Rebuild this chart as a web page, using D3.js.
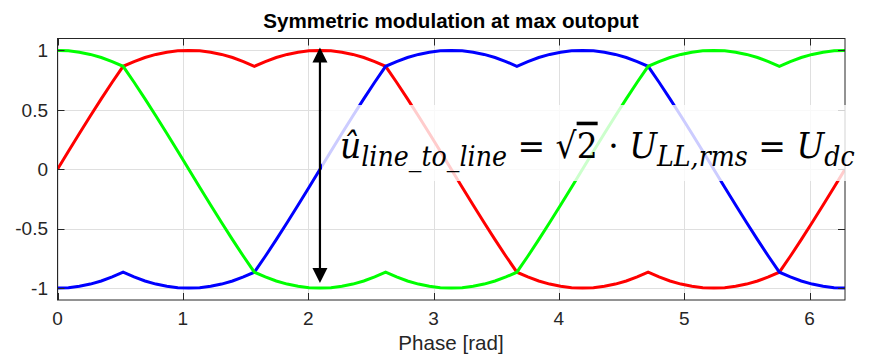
<!DOCTYPE html>
<html><head><meta charset="utf-8">
<script src="https://cdn.jsdelivr.net/npm/d3@7"></script>
<style>body{margin:0;background:#fff}svg{display:block}</style>
</head><body>
<svg id="chart" width="869" height="357"></svg>
<script>
// ---- data (phase in degrees) ----
const phaseDeg = [0,5,10,15,20,25,30,35,40,45,50,55,60,65,70,75,80,85,90,95,100,105,110,115,120,125,130,135,140,145,150,155,160,165,170,175,180,185,190,195,200,205,210,215,220,225,230,235,240,245,250,255,260,265,270,275,280,285,290,295,300,305,310,315,320,325,330,335,340,345,350,355,360];
const red = [0,0.151,0.301,0.448,0.592,0.732,0.866,0.906,0.940,0.966,0.985,0.996,1,0.996,0.985,0.966,0.940,0.906,0.866,0.906,0.940,0.966,0.985,0.996,1,0.996,0.985,0.966,0.940,0.906,0.866,0.732,0.592,0.448,0.301,0.151,0,-0.151,-0.301,-0.448,-0.592,-0.732,-0.866,-0.906,-0.940,-0.966,-0.985,-0.996,-1,-0.996,-0.985,-0.966,-0.940,-0.906,-0.866,-0.906,-0.940,-0.966,-0.985,-0.996,-1,-0.996,-0.985,-0.966,-0.940,-0.906,-0.866,-0.732,-0.592,-0.448,-0.301,-0.151,0];
const blue = [-1,-0.996,-0.985,-0.966,-0.940,-0.906,-0.866,-0.906,-0.940,-0.966,-0.985,-0.996,-1,-0.996,-0.985,-0.966,-0.940,-0.906,-0.866,-0.732,-0.592,-0.448,-0.301,-0.151,0,0.151,0.301,0.448,0.592,0.732,0.866,0.906,0.940,0.966,0.985,0.996,1,0.996,0.985,0.966,0.940,0.906,0.866,0.906,0.940,0.966,0.985,0.996,1,0.996,0.985,0.966,0.940,0.906,0.866,0.732,0.592,0.448,0.301,0.151,0,-0.151,-0.301,-0.448,-0.592,-0.732,-0.866,-0.906,-0.940,-0.966,-0.985,-0.996,-1];
const green = [1,0.996,0.985,0.966,0.940,0.906,0.866,0.732,0.592,0.448,0.301,0.151,0,-0.151,-0.301,-0.448,-0.592,-0.732,-0.866,-0.906,-0.940,-0.966,-0.985,-0.996,-1,-0.996,-0.985,-0.966,-0.940,-0.906,-0.866,-0.906,-0.940,-0.966,-0.985,-0.996,-1,-0.996,-0.985,-0.966,-0.940,-0.906,-0.866,-0.732,-0.592,-0.448,-0.301,-0.151,0,0.151,0.301,0.448,0.592,0.732,0.866,0.906,0.940,0.966,0.985,0.996,1,0.996,0.985,0.966,0.940,0.906,0.866,0.906,0.940,0.966,0.985,0.996,1];
const xTicks = [0,1,2,3,4,5,6];
const yTicks = [-1,-0.5,0,0.5,1];
const yTickLabels = ["-1","-0.5","0","0.5","1"];
const titleText = "Symmetric modulation at max outoput";
const xLabelText = "Phase [rad]";
const arrowPhase = 2.094, arrowTop = 1.025, arrowBottom = -0.957;

// ---- layout ----
const L = 57.5, R = 845, T = 38.5, B = 300;
const svg = d3.select("#chart");
const x = d3.scaleLinear().domain([0, 2*Math.PI]).range([L, R]);
const y = d3.scaleLinear().domain([-1.1, 1.1]).range([B, T]);
const axisCol = "#262626", gridCol = "#dfdfdf";
const font = "'Liberation Sans', Arial, sans-serif";

// grid
const g = svg.append("g");
g.selectAll(".gx").data(xTicks).join("line")
  .attr("x1", d => Math.round(x(d)) + 0.5).attr("x2", d => Math.round(x(d)) + 0.5)
  .attr("y1", T).attr("y2", B).attr("stroke", gridCol).attr("stroke-width", 1);
g.selectAll(".gy").data(yTicks).join("line")
  .attr("y1", d => Math.round(y(d)) + 0.5).attr("y2", d => Math.round(y(d)) + 0.5)
  .attr("x1", L).attr("x2", R).attr("stroke", gridCol).attr("stroke-width", 1);

// clip
svg.append("clipPath").attr("id", "clip").append("rect")
  .attr("x", L).attr("y", T).attr("width", R - L).attr("height", B - T);

const series = [
  {vals: red, col: "#ff0000"},
  {vals: blue, col: "#0000ff"},
  {vals: green, col: "#00ff00"}
];
const line = d3.line().x(d => x(d[0] * Math.PI / 180)).y(d => y(d[1]));
svg.append("g").attr("clip-path", "url(#clip)")
  .selectAll("path").data(series).join("path")
  .attr("d", s => line(phaseDeg.map((p, i) => [p, s.vals[i]])))
  .attr("fill", "none").attr("stroke", s => s.col).attr("stroke-width", 3)
  .attr("stroke-linejoin", "miter").attr("stroke-miterlimit", 10);

// axes box with inward ticks
const tl = 7;
const ax = svg.append("g").attr("stroke", axisCol).attr("stroke-width", 1);
ax.append("rect").attr("x", L).attr("y", T).attr("width", R - L).attr("height", B - T).attr("fill", "none");
xTicks.forEach(t => {
  const xx = Math.round(x(t)) + 0.5;
  ax.append("line").attr("x1", xx).attr("x2", xx).attr("y1", B).attr("y2", B - tl);
  ax.append("line").attr("x1", xx).attr("x2", xx).attr("y1", T).attr("y2", T + tl);
});
yTicks.forEach(t => {
  const yy = Math.round(y(t)) + 0.5;
  ax.append("line").attr("y1", yy).attr("y2", yy).attr("x1", L).attr("x2", L + tl);
  ax.append("line").attr("y1", yy).attr("y2", yy).attr("x1", R).attr("x2", R - tl);
});

// tick labels
svg.append("g").selectAll("text").data(xTicks).join("text")
  .attr("x", d => x(d)).attr("y", 325).attr("text-anchor", "middle")
  .attr("font-family", font).attr("font-size", 19).attr("fill", axisCol).text(d => d);
svg.append("g").selectAll("text").data(yTicks).join("text")
  .attr("x", 48).attr("y", d => y(d) + 6.8).attr("text-anchor", "end")
  .attr("font-family", font).attr("font-size", 19).attr("fill", axisCol)
  .text((d, i) => yTickLabels[i]);

// title and label
svg.append("text").attr("x", 451).attr("y", 28).attr("text-anchor", "middle")
  .attr("font-family", font).attr("font-size", 20.6).attr("font-weight", "bold").attr("fill", "#000")
  .text(titleText);
svg.append("text").attr("x", 451).attr("y", 350).attr("text-anchor", "middle")
  .attr("font-family", font).attr("font-size", 20.6).attr("fill", axisCol).text(xLabelText);

// annotation box
svg.append("rect").attr("x", 322).attr("y", 105).attr("width", 525).attr("height", 76)
  .attr("fill", "#fff").attr("fill-opacity", 0.8);

// arrow
const ax0 = x(arrowPhase), yTop = y(arrowTop), yBot = y(arrowBottom);
const hl = 15, hw = 7.5;
svg.append("line").attr("x1", ax0).attr("x2", ax0).attr("y1", yTop + hl - 1).attr("y2", yBot - hl + 1)
  .attr("stroke", "#000").attr("stroke-width", 2.2);
svg.append("path").attr("d", `M${ax0},${yTop}L${ax0 - hw},${yTop + hl}L${ax0 + hw},${yTop + hl}Z`).attr("fill", "#000");
svg.append("path").attr("d", `M${ax0},${yBot}L${ax0 - hw},${yBot - hl}L${ax0 + hw},${yBot - hl}Z`).attr("fill", "#000");

// math text
const mg = svg.append("g");
const mt = mg.append("text").attr("x", 0).attr("y", 0)
  .attr("font-family", "'DejaVu Serif', 'Liberation Serif', serif").attr("font-size", 30).attr("fill", "#000");
mt.append("tspan").attr("font-style", "italic").text("û");
mt.append("tspan").attr("font-style", "italic").attr("font-size", 23).attr("dy", 7).text("line_to_line");
mt.append("tspan").attr("dy", -7).text(" = √");
mt.append("tspan").attr("text-decoration", "overline").text("2");
mt.append("tspan").text(" · ");
mt.append("tspan").attr("font-style", "italic").text("U");
mt.append("tspan").attr("font-style", "italic").attr("font-size", 23).attr("dy", 7).text("LL,rms");
mt.append("tspan").attr("dy", -7).text(" = ");
mt.append("tspan").attr("font-style", "italic").text("U");
mt.append("tspan").attr("font-style", "italic").attr("font-size", 23).attr("dy", 7).text("dc");
const bb = mt.node().getBBox();
const sx = 515 / bb.width, sy = sx * 1.08;
mg.attr("transform", `translate(${340 - bb.x * sx},158) scale(${sx},${sy})`);
</script>
</body></html>
